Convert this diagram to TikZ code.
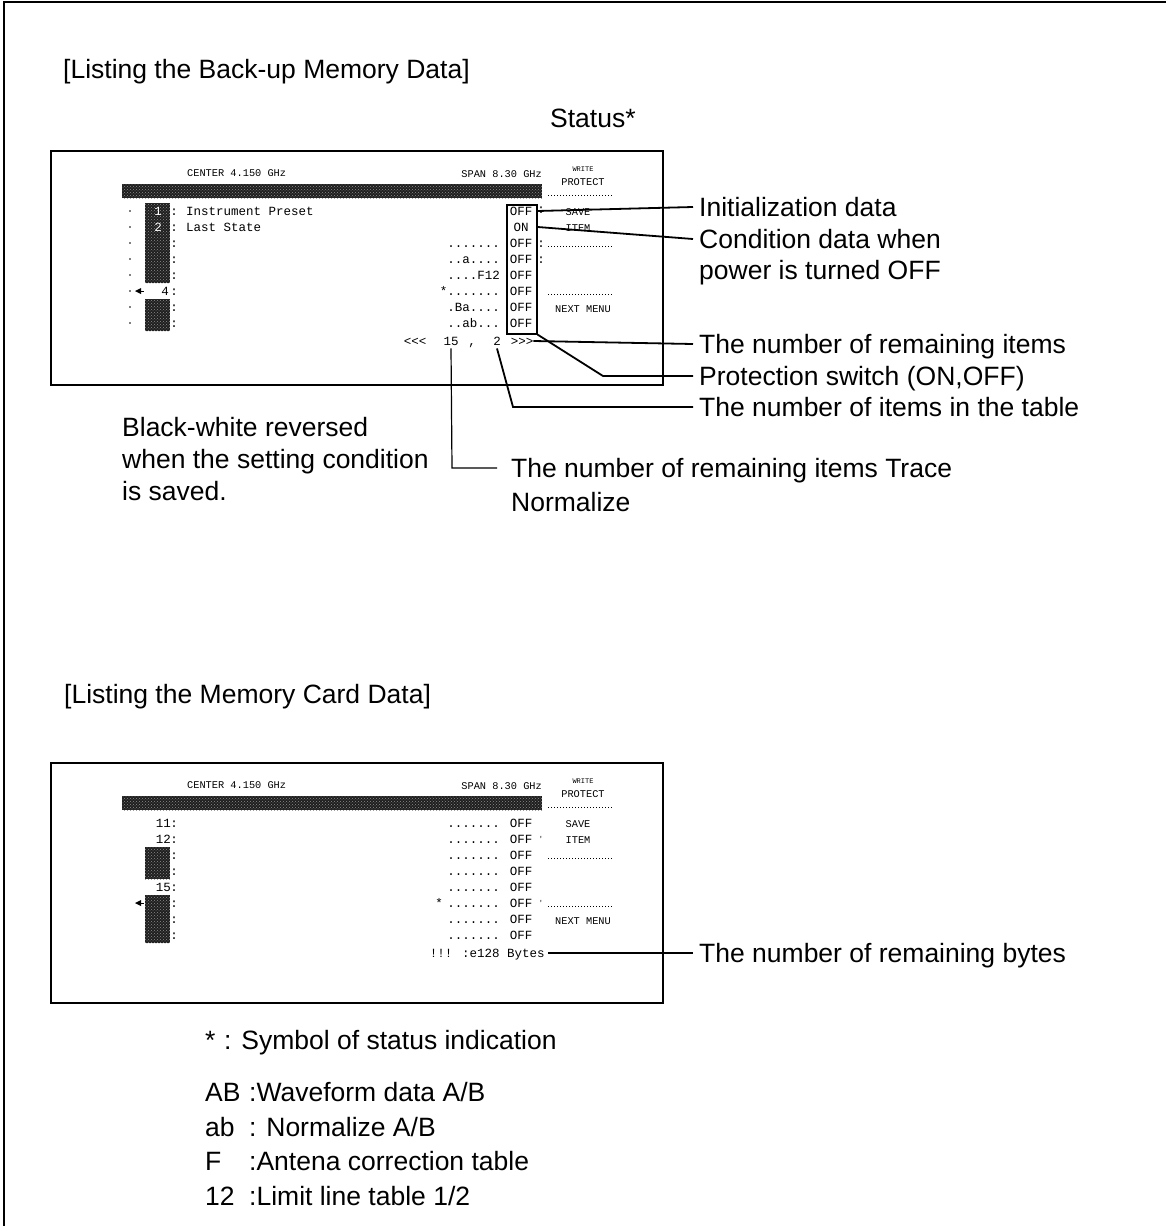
\documentclass[tikz,border=0pt]{standalone}
\usepackage{fontspec}
\setmainfont{Liberation Sans}
\newfontfamily\scrfont{Liberation Mono}
\usetikzlibrary{patterns,calc}
\begin{document}
\begin{tikzpicture}[x=1pt,y=-1pt,
  lbl/.style={anchor=base west,inner sep=0pt,font=\fontsize{26.5}{30}\selectfont},
  mrow/.style={inner sep=0pt,font=\scrfont\fontsize{12.5}{13}\selectfont,text height=8.5pt,text depth=0pt},
  mhdr/.style={inner sep=0pt,font=\scrfont\fontsize{10.3}{11}\selectfont,text height=7pt,text depth=0pt},
  mtiny/.style={inner sep=0pt,font=\scrfont\fontsize{7}{8}\selectfont,text height=5pt,text depth=0pt},
  screenbox/.style={draw,line width=2pt,inner sep=0pt,anchor=north west},
  conn/.style={line width=1.8pt},
  dk/.style={fill=black!88,postaction={pattern=crosshatch dots,pattern color=black!45}},
  menuline/.style={line width=0.9pt,dash pattern=on 1pt off 2pt}]
\useasboundingbox (0,0) rectangle (1166,1226);
\fill[white] (0,0) rectangle (1166,1226);
\draw[line width=2pt] (4,1226) -- (4,2) -- (1166,2);

% ---------- titles ----------
\node[lbl] (t1) at (63,78) {[Listing the Back-up Memory Data]};
\node[lbl] (st) at (550,127) {Status*};

% ---------- screen 1 ----------
\node[screenbox,minimum width=612pt,minimum height=234pt] (scr1) at (50,150) {};
\node[mhdr,anchor=west] (cen1) at (187,173) {CENTER 4.150 GHz};
\node[mhdr,anchor=east] (spn1) at (542,174) {SPAN 8.30 GHz};
\node[mtiny] (wr1) at (583,169) {WRITE};
\node[mhdr] (pr1) at (583,182) {PROTECT};
\fill[dk] (122,184) rectangle (542,198);
\draw[menuline] (548,195) -- (613,195);
\draw[menuline] (548,246) -- (613,246);
\draw[menuline] (548,294) -- (613,294);
\node[mhdr] (sv1) at (578,212) {SAVE};
\node[mhdr] (it1) at (578,228) {ITEM};
\node[mhdr] (nx1) at (583,309) {NEXT MENU};

\fill[dk] (145,203) rectangle (170,283);
\fill[dk] (145,299) rectangle (170,331);
\node[mrow,text=white] (one1) at (158,211) {1};
\node[mrow,text=white] (two1) at (158,227) {2};
\node[mrow] (four1) at (165,291) {4};
\foreach \yy [count=\i] in {211,227,243,259,275,291,307,323}{
  \node[mrow] (colA\i) at (174,\yy) {:};
  \fill (130,\yy) circle (0.8);
}
\fill (135,291) -- (141,288) -- (141,294) -- cycle;
\draw[line width=1pt] (141,291) -- (144,291);
\node[mrow,anchor=west] (ip1) at (186,211) {Instrument Preset};
\node[mrow,anchor=west] (ls1) at (186,227) {Last State};

\node[draw,line width=1.6pt,inner sep=0pt,minimum width=30pt,minimum height=129pt,anchor=north west] (ofb) at (506,204) {};
\node[mrow] (off1) at (521,211) {OFF};
\node[mrow] (on2) at (521,227) {ON };
\foreach \yy [count=\i from 3] in {243,259,275,291,307,323}{
  \node[mrow] (off\i) at (521,\yy) {OFF};
}
\node[mrow,anchor=east] (d3) at (500,243) {.......};
\node[mrow,anchor=east] (d4) at (500,259) {..a....};
\node[mrow,anchor=east] (d5) at (500,275) {....F12};
\node[mrow,anchor=east] (d6) at (500,291) {*.......};
\node[mrow,anchor=east] (d7) at (500,307) {.Ba....};
\node[mrow,anchor=east] (d8) at (500,323) {..ab...};
\node[mrow] (mk1) at (541,209) {:};
\node[mrow] (mk3) at (541,243) {:};
\node[mrow] (mk4) at (541,259) {:};

\node[mrow] (lt) at (415,341) {<<<};
\node[mrow] (n15) at (451,341) {15};
\node[mrow] (cm) at (472,341) {,};
\node[mrow] (n2) at (497,341) {2};
\node[mrow] (gt) at (522,341) {>>>};

% ---------- right labels screen 1 ----------
\node[lbl] (init) at (699,216.5) {Initialization data};
\node[lbl] (cond) at (699,248.5) {Condition data when};
\node[lbl] (pow) at (699,279.5) {power is turned OFF};
\node[lbl] (rem) at (699,353.5) {The number of remaining items};
\node[lbl] (prot) at (699,385.5) {Protection switch (ON,OFF)};
\node[lbl] (tab) at (699,416.5) {The number of items in the table};

\node[lbl] (bw1) at (122,436.5) {Black-white reversed};
\node[lbl] (bw2) at (122,468.5) {when the setting condition};
\node[lbl] (bw3) at (122,500.5) {is saved.};
\node[lbl] (rt) at (511,477.5) {The number of remaining items Trace};
\node[lbl] (nm) at (511,511.5) {Normalize};

% connectors screen 1
\draw[conn] (ofb.east |- off1) -- ($(init.base west)+(-6,-9.5)$);
\draw[conn] (ofb.east |- on2) -- ($(cond.base west)+(-6,-9.5)$);
\draw[conn] (gt.east) -- ($(rem.base west)+(-6,-9.5)$);
\coordinate (k4) at ($(prot.base west)+(-96,-9.5)$);
\draw[conn] (ofb.south east) -- (k4) -- ($(prot.base west)+(-6,-9.5)$);
\coordinate (k5) at ($(tab.base west)+(-186,-9.5)$);
\draw[conn] ([yshift=-3pt]n2.south) -- (k5) -- ($(tab.base west)+(-6,-9.5)$);
\coordinate (k6) at ($(rt.base west)+(-59,-9.5)$);
\draw[line width=1.2pt] ([yshift=-3pt]n15.south) -- (k6) -- ($(rt.base west)+(-14,-9.5)$);

% ---------- second part ----------
\node[lbl] (t2) at (64,703.5) {[Listing the Memory Card Data]};

\node[screenbox,minimum width=612pt,minimum height=240pt] (scr2) at (50,762) {};
\node[mhdr,anchor=west] (cen2) at (187,785) {CENTER 4.150 GHz};
\node[mhdr,anchor=east] (spn2) at (542,786) {SPAN 8.30 GHz};
\node[mtiny] (wr2) at (583,781) {WRITE};
\node[mhdr] (pr2) at (583,794) {PROTECT};
\fill[dk] (122,796) rectangle (542,810);
\draw[menuline] (548,807) -- (613,807);
\draw[menuline] (548,858) -- (613,858);
\draw[menuline] (548,906) -- (613,906);
\node[mhdr] (sv2) at (578,824) {SAVE};
\node[mhdr] (it2) at (578,840) {ITEM};
\node[mhdr] (nx2) at (583,921) {NEXT MENU};

\fill[dk] (145,847) rectangle (170,879);
\fill[dk] (145,895) rectangle (170,943);
\node[mrow,anchor=east] (e11) at (171,823) {11};
\node[mrow,anchor=east] (e12) at (171,839) {12};
\node[mrow,anchor=east] (e15) at (171,887) {15};
\fill (135,903) -- (141,900) -- (141,906) -- cycle;
\draw[line width=1pt] (141,903) -- (144,903);
\foreach \yy [count=\i] in {823,839,855,871,887,903,919,935}{
  \node[mrow] (colB\i) at (174,\yy) {:};
  \node[mrow] (offB\i) at (521,\yy) {OFF};
  \node[mrow,anchor=east] (dB\i) at (500,\yy) {.......};
}
\node[mrow,anchor=east] (dB6s) at (443,903) {*};
\node[mtiny] (mkB2) at (541,839) {'};
\node[mtiny] (mkB6) at (541,903) {'};
\node[mrow] (exc) at (441,953) {!!!};
\node[mrow,anchor=west] (bytes) at (462,953) {:e128 Bytes};

\node[lbl] (rbytes) at (699,962.5) {The number of remaining bytes};
\draw[conn] ([xshift=3pt]bytes.east) -- ($(rbytes.base west)+(-6,-9.5)$);

% ---------- legend ----------
\node[lbl] (lg0) at (205,1049.5) {*};
\node[lbl] (lg0b) at (224,1049.5) {: Symbol of status indication};
\node[lbl] (lgA) at (205,1101.5) {AB};
\node[lbl] (lgAt) at (249,1101.5) {:Waveform data A/B};
\node[lbl] (lgB) at (205,1136.5) {ab};
\node[lbl] (lgBt) at (249,1136.5) {: Normalize A/B};
\node[lbl] (lgC) at (205,1170.5) {F};
\node[lbl] (lgCt) at (249,1170.5) {:Antena correction table};
\node[lbl] (lgD) at (205,1205.5) {12};
\node[lbl] (lgDt) at (249,1205.5) {:Limit line table 1/2};
\end{tikzpicture}
\end{document}
